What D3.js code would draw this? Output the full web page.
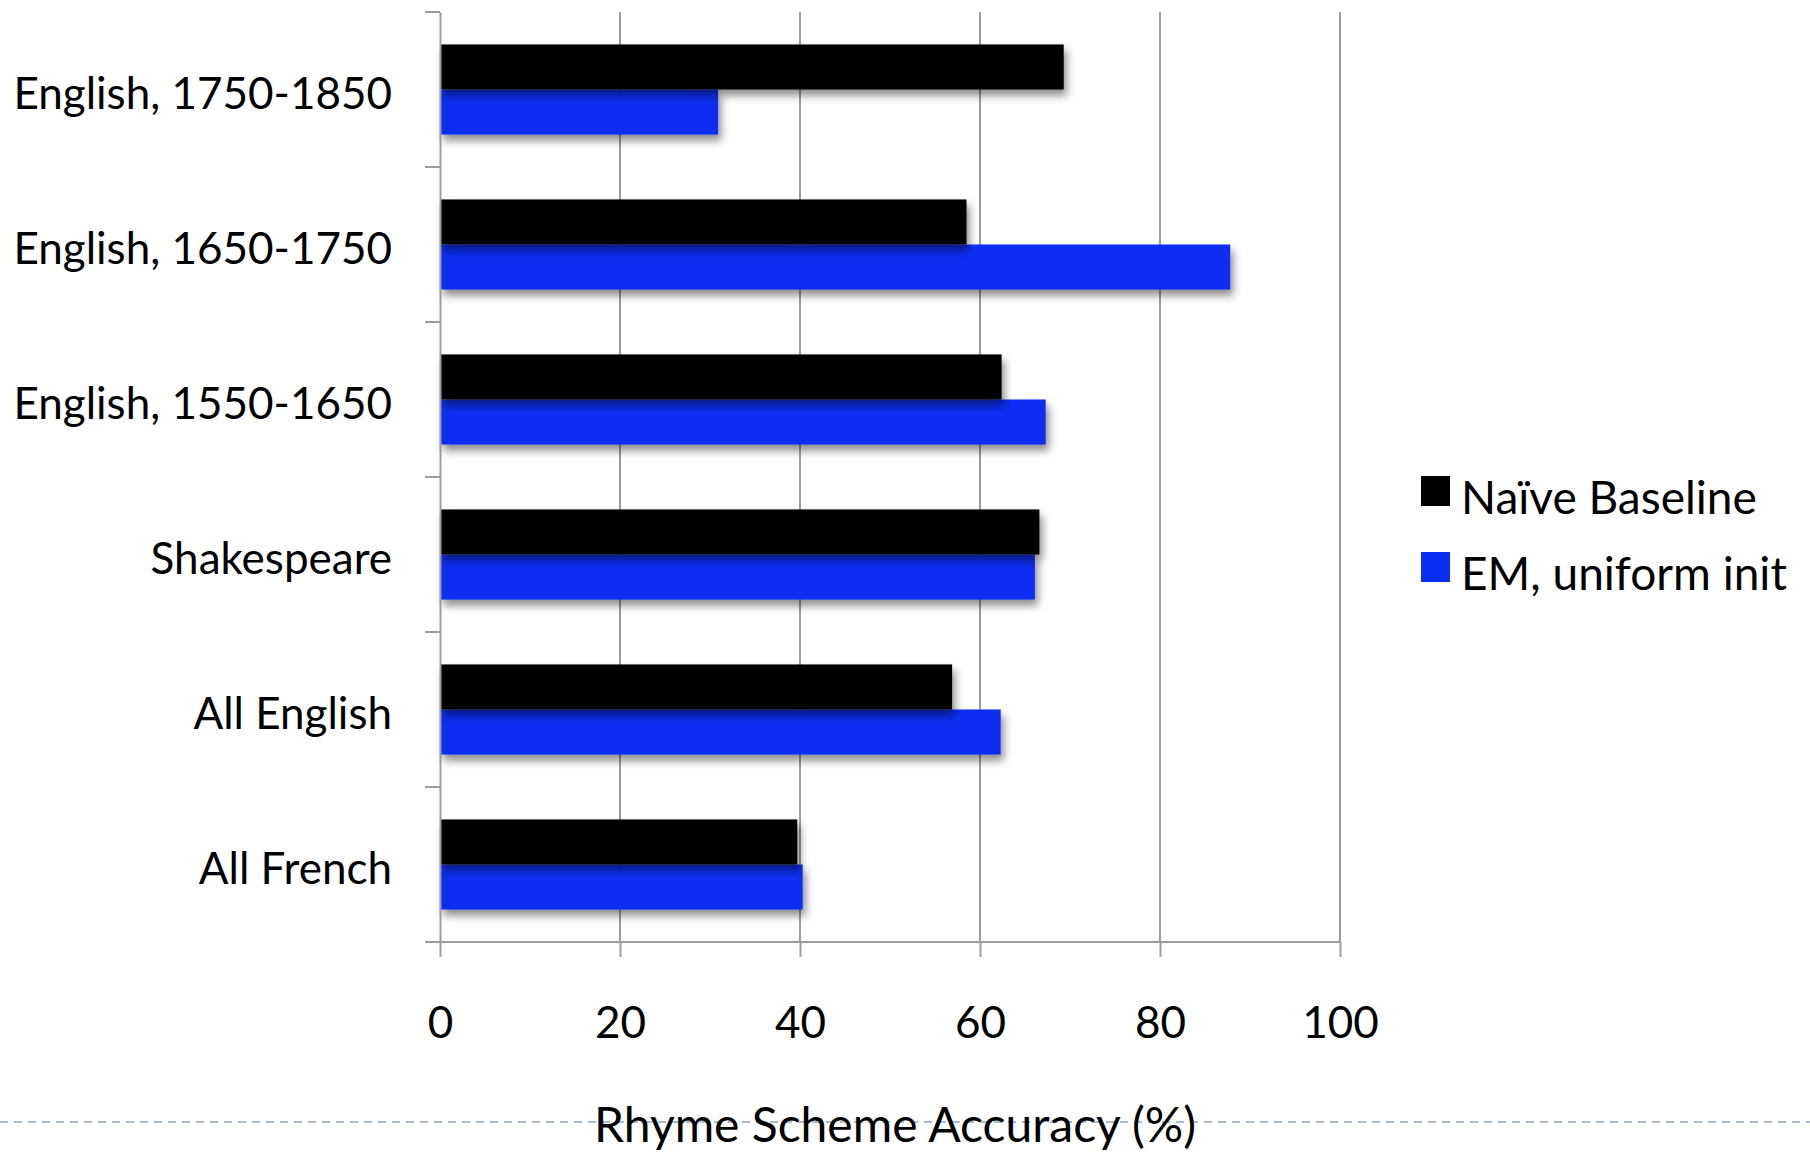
<!DOCTYPE html>
<html>
<head>
<meta charset="utf-8">
<script src="https://cdn.jsdelivr.net/npm/d3@7"></script>
<style>
  body { margin: 0; background: #fff; }
  svg text { font-family: "Gill Sans", Lato, "Open Sans", sans-serif; fill: #000; }
</style>
</head>
<body>
<div id="chart"></div>
<script>
// Chart data (top to bottom)
const categories = [
  "English, 1750-1850",
  "English, 1650-1750",
  "English, 1550-1650",
  "Shakespeare",
  "All English",
  "All French"
];
const seriesNames = ["Naïve Baseline", "EM, uniform init"];
const naiveValues = [69.3, 58.5, 62.4, 66.6, 56.9, 39.7];
const emValues = [30.9, 87.8, 67.3, 66.1, 62.3, 40.3];
const xTicks = [0, 20, 40, 60, 80, 100];
const xTitle = "Rhyme Scheme Accuracy (%)";

const width = 1810;
const height = 1152;
const plot = { left: 440, right: 1340, top: 12, bottom: 942 };

const color = d3.scaleOrdinal().domain(seriesNames).range(["#000000", "#0a2ef2"]);

const svg = d3.select("#chart")
  .append("svg")
  .attr("width", width)
  .attr("height", height);

// Drop shadow for bars
const filter = svg.append("defs").append("filter")
  .attr("id", "shadow")
  .attr("x", "-5%").attr("y", "-20%")
  .attr("width", "115%").attr("height", "160%");
filter.append("feDropShadow")
  .attr("dx", 3).attr("dy", 6)
  .attr("stdDeviation", 4)
  .attr("flood-color", "#000")
  .attr("flood-opacity", 0.45);

// Scales
const xScale = d3.scaleLinear().domain([0, 100]).range([plot.left, plot.right]);
const yScale = d3.scaleBand().domain(categories).range([plot.top, plot.bottom]);
const ySub = d3.scaleBand()
  .domain(seriesNames)
  .range([0, yScale.bandwidth()])
  .paddingOuter(0.72);

// Vertical gridlines
svg.append("g")
  .selectAll("line")
  .data(xTicks.slice(1))
  .enter()
  .append("line")
  .attr("x1", (d) => xScale(d))
  .attr("x2", (d) => xScale(d))
  .attr("y1", plot.top)
  .attr("y2", plot.bottom)
  .attr("stroke", "#9c9c9c")
  .attr("stroke-width", 2);

// Bars
const data = categories.map((c, i) => ({
  category: c,
  values: [
    { series: seriesNames[0], value: naiveValues[i] },
    { series: seriesNames[1], value: emValues[i] }
  ]
}));

const groups = svg.append("g")
  .selectAll(".group")
  .data(data)
  .enter()
  .append("g")
  .attr("class", "group")
  .attr("transform", (d) => `translate(0, ${yScale(d.category)})`);

// draw blue first so the black shadow falls on it like the original
groups.selectAll("rect")
  .data((d) => d.values.slice().reverse())
  .enter()
  .append("rect")
  .attr("x", xScale(0))
  .attr("y", (d) => ySub(d.series))
  .attr("width", (d) => xScale(d.value) - xScale(0))
  .attr("height", ySub.bandwidth())
  .attr("fill", (d) => color(d.series))
  .attr("filter", "url(#shadow)");

// Y axis
const yAxis = d3.axisLeft(yScale)
  .tickSize(0)
  .tickPadding(48);
const yAxisG = svg.append("g")
  .attr("transform", `translate(${plot.left}, 0)`)
  .call(yAxis);
yAxisG.select(".domain").attr("stroke", "#9c9c9c").attr("stroke-width", 2);
yAxisG.selectAll("text")
  .attr("font-size", 44)
  .attr("fill", "#000")
  .attr("y", 5);

// Category separator ticks
svg.append("g")
  .selectAll("line")
  .data(d3.range(categories.length + 1))
  .enter()
  .append("line")
  .attr("x1", plot.left - 15)
  .attr("x2", plot.left)
  .attr("y1", (i) => plot.top + i * yScale.step())
  .attr("y2", (i) => plot.top + i * yScale.step())
  .attr("stroke", "#9c9c9c")
  .attr("stroke-width", 2);

// X axis
const xAxis = d3.axisBottom(xScale)
  .tickValues(xTicks)
  .tickSize(15)
  .tickPadding(50)
  .tickSizeOuter(0);
const xAxisG = svg.append("g")
  .attr("transform", `translate(0, ${plot.bottom})`)
  .call(xAxis);
xAxisG.select(".domain")
  .attr("d", `M${plot.left - 15},0H${plot.right}`)
  .attr("stroke", "#9c9c9c")
  .attr("stroke-width", 2);
xAxisG.selectAll(".tick line").attr("stroke", "#9c9c9c").attr("stroke-width", 2);
xAxisG.selectAll("text").attr("font-size", 44).attr("fill", "#000");

// Dashed slide rule
svg.append("line")
  .attr("x1", 0)
  .attr("x2", width)
  .attr("y1", 1122)
  .attr("y2", 1122)
  .attr("stroke", "#a9bccd")
  .attr("stroke-width", 2)
  .attr("stroke-dasharray", "8,6");

// X title
svg.append("text")
  .attr("x", 895)
  .attr("y", 1142)
  .attr("text-anchor", "middle")
  .attr("font-size", 48)
  .text(xTitle);

// Legend
const legend = svg.append("g").attr("transform", "translate(1421, 476)");
const legendItems = legend.selectAll(".legend-item")
  .data(seriesNames)
  .enter()
  .append("g")
  .attr("class", "legend-item")
  .attr("transform", (d, i) => `translate(0, ${i * 76})`);
legendItems.append("rect")
  .attr("width", 29)
  .attr("height", 30)
  .attr("fill", (d) => color(d));
legendItems.append("text")
  .attr("x", 40)
  .attr("y", 22)
  .attr("dy", "0.35em")
  .attr("font-size", 46)
  .text((d) => d);
</script>
</body>
</html>
